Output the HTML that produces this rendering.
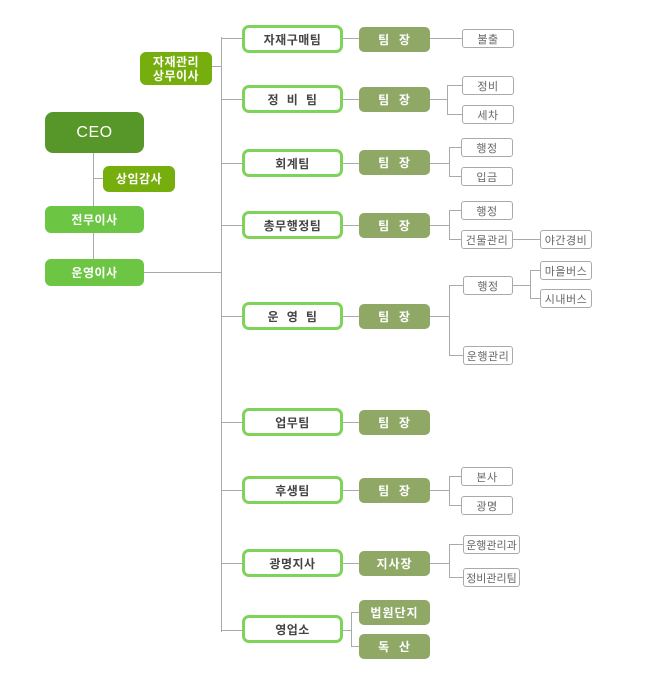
<!DOCTYPE html>
<html><head><meta charset="utf-8"><style>
body{margin:0;width:661px;height:680px;background:#fff;position:relative;overflow:hidden;font-family:"Liberation Sans","Noto Sans CJK KR",sans-serif;}
div{position:absolute;box-sizing:border-box;}
.b{display:flex;align-items:center;justify-content:center;text-align:center;color:#fff;font-weight:bold;font-size:12px;border-radius:6px;line-height:14px;letter-spacing:0.5px;}
.t{border:3px solid #7fd35a;border-radius:7px;color:#444;font-weight:bold;font-size:12px;display:flex;align-items:center;justify-content:center;background:#fff;width:101px;height:28px;left:242px;letter-spacing:0.5px;}
.m{background:#8fa866;border-radius:5px;color:#fff;font-weight:bold;font-size:12px;display:flex;align-items:center;justify-content:center;width:71px;height:25px;left:359px;letter-spacing:1px;}
.s{border:1px solid #aaa;border-radius:3px;color:#666;font-size:11px;display:flex;align-items:center;justify-content:center;background:#fff;height:19px;letter-spacing:0.5px;}
.h{height:1px;background:#aaa;}
.v{width:1px;background:#aaa;}
</style></head><body>
<div class="v" style="left:93px;top:152px;height:108px"></div>
<div class="h" style="left:93px;top:178px;width:10px"></div>
<div class="h" style="left:144px;top:272px;width:77px"></div>
<div class="h" style="left:212px;top:66px;width:9px"></div>
<div class="v" style="left:221px;top:37px;height:595px"></div>
<div class="b" style="left:45px;top:112px;width:99px;height:41px;background:#579628;font-size:16px;font-weight:normal;border-radius:8px">CEO</div>
<div class="b" style="left:103px;top:166px;width:72px;height:26px;background:#76ae0e">상임감사</div>
<div class="b" style="left:45px;top:206px;width:99px;height:27px;background:#6cc644">전무이사</div>
<div class="b" style="left:45px;top:259px;width:99px;height:27px;background:#6cc644">운영이사</div>
<div class="b" style="left:140px;top:52px;width:72px;height:33px;background:#76ae0e">자재관리<br>상무이사</div>

<div class="h" style="left:221px;top:38px;width:140px"></div>
<div class="h" style="left:221px;top:99px;width:140px"></div>
<div class="h" style="left:221px;top:163px;width:140px"></div>
<div class="h" style="left:221px;top:225px;width:140px"></div>
<div class="h" style="left:221px;top:316px;width:140px"></div>
<div class="h" style="left:221px;top:422px;width:140px"></div>
<div class="h" style="left:221px;top:490px;width:140px"></div>
<div class="h" style="left:221px;top:563px;width:140px"></div>
<div class="h" style="left:221px;top:630px;width:130px"></div>
<div class="v" style="left:351px;top:612px;height:35px"></div>
<div class="h" style="left:351px;top:612px;width:10px"></div>
<div class="h" style="left:351px;top:646px;width:10px"></div>

<div class="t" style="top:25px">자재구매팀</div>
<div class="t" style="top:85px">정&nbsp;&nbsp;비&nbsp;&nbsp;팀</div>
<div class="t" style="top:149px">회계팀</div>
<div class="t" style="top:211px">총무행정팀</div>
<div class="t" style="top:302px">운&nbsp;&nbsp;영&nbsp;&nbsp;팀</div>
<div class="t" style="top:408px">업무팀</div>
<div class="t" style="top:476px">후생팀</div>
<div class="t" style="top:549px">광명지사</div>
<div class="t" style="top:615px">영업소</div>

<div class="h" style="left:430px;top:38px;width:32px"></div>
<div class="h" style="left:430px;top:99px;width:17px"></div><div class="v" style="left:447px;top:85px;height:30px"></div>
<div class="h" style="left:447px;top:85px;width:15px"></div><div class="h" style="left:447px;top:114px;width:15px"></div>
<div class="h" style="left:430px;top:163px;width:19px"></div><div class="v" style="left:449px;top:147px;height:30px"></div>
<div class="h" style="left:449px;top:147px;width:13px"></div><div class="h" style="left:449px;top:176px;width:13px"></div>
<div class="h" style="left:430px;top:225px;width:19px"></div><div class="v" style="left:449px;top:210px;height:30px"></div>
<div class="h" style="left:449px;top:210px;width:13px"></div><div class="h" style="left:449px;top:239px;width:13px"></div>
<div class="h" style="left:513px;top:239px;width:27px"></div>
<div class="h" style="left:430px;top:316px;width:19px"></div><div class="v" style="left:449px;top:285px;height:71px"></div>
<div class="h" style="left:449px;top:285px;width:14px"></div><div class="h" style="left:449px;top:355px;width:14px"></div>
<div class="h" style="left:513px;top:285px;width:17px"></div><div class="v" style="left:530px;top:270px;height:29px"></div>
<div class="h" style="left:530px;top:270px;width:10px"></div><div class="h" style="left:530px;top:298px;width:10px"></div>
<div class="h" style="left:430px;top:490px;width:19px"></div><div class="v" style="left:449px;top:476px;height:30px"></div>
<div class="h" style="left:449px;top:476px;width:12px"></div><div class="h" style="left:449px;top:505px;width:12px"></div>
<div class="h" style="left:430px;top:563px;width:19px"></div><div class="v" style="left:449px;top:544px;height:34px"></div>
<div class="h" style="left:449px;top:544px;width:14px"></div><div class="h" style="left:449px;top:577px;width:14px"></div>

<div class="m" style="top:27px">팀&nbsp;&nbsp;장</div>
<div class="m" style="top:87px">팀&nbsp;&nbsp;장</div>
<div class="m" style="top:150px">팀&nbsp;&nbsp;장</div>
<div class="m" style="top:213px">팀&nbsp;&nbsp;장</div>
<div class="m" style="top:304px">팀&nbsp;&nbsp;장</div>
<div class="m" style="top:410px">팀&nbsp;&nbsp;장</div>
<div class="m" style="top:478px">팀&nbsp;&nbsp;장</div>
<div class="m" style="top:551px">지사장</div>
<div class="m" style="top:600px">법원단지</div>
<div class="m" style="top:634px">독&nbsp;&nbsp;산</div>

<div class="s" style="left:462px;top:29px;width:52px">불출</div>
<div class="s" style="left:462px;top:76px;width:52px">정비</div>
<div class="s" style="left:462px;top:105px;width:52px">세차</div>
<div class="s" style="left:461px;top:138px;width:52px">행정</div>
<div class="s" style="left:461px;top:167px;width:52px">입금</div>
<div class="s" style="left:461px;top:201px;width:52px">행정</div>
<div class="s" style="left:461px;top:230px;width:52px">건물관리</div>
<div class="s" style="left:540px;top:230px;width:52px">야간경비</div>
<div class="s" style="left:463px;top:276px;width:50px">행정</div>
<div class="s" style="left:463px;top:346px;width:50px">운행관리</div>
<div class="s" style="left:540px;top:261px;width:52px">마을버스</div>
<div class="s" style="left:540px;top:289px;width:52px">시내버스</div>
<div class="s" style="left:461px;top:467px;width:52px">본사</div>
<div class="s" style="left:461px;top:496px;width:52px">광명</div>
<div class="s" style="left:463px;top:535px;width:57px;letter-spacing:0">운행관리과</div>
<div class="s" style="left:463px;top:568px;width:57px;letter-spacing:0">정비관리팀</div>
</body></html>
